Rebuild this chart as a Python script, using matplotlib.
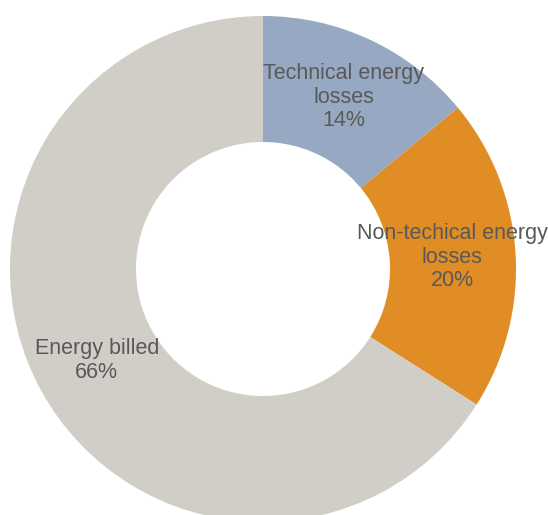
import matplotlib
matplotlib.use("Agg")
import matplotlib.pyplot as plt

categories = ["Technical energy\nlosses", "Non-techical energy\nlosses", "Energy billed"]
shares = [14, 20, 66]
colors = ["#97A9C2", "#E08D26", "#D1CEC8"]

plt.rcParams["font.family"] = ["Liberation Sans", "DejaVu Sans"]

fig = plt.figure(figsize=(5.48, 5.15), dpi=100)
ax = fig.add_axes([0, 0, 1, 1])

labels_iter = iter(categories)


def fmt(pct):
    name = next(labels_iter)
    return f"{name}\n{pct:.0f}%"


ax.pie(
    shares,
    colors=colors,
    startangle=90,
    counterclock=False,
    center=(263, 246),
    radius=253,
    autopct=fmt,
    pctdistance=0.75,
    wedgeprops=dict(width=126, linewidth=0),
    textprops=dict(color="#595959", fontsize=15.5, linespacing=1.15),
    frame=False,
)
ax.set_xlim(0, 548)
ax.set_ylim(0, 515)
ax.set_aspect("equal")
ax.axis("off")

fig.savefig("out.png", dpi=100)
